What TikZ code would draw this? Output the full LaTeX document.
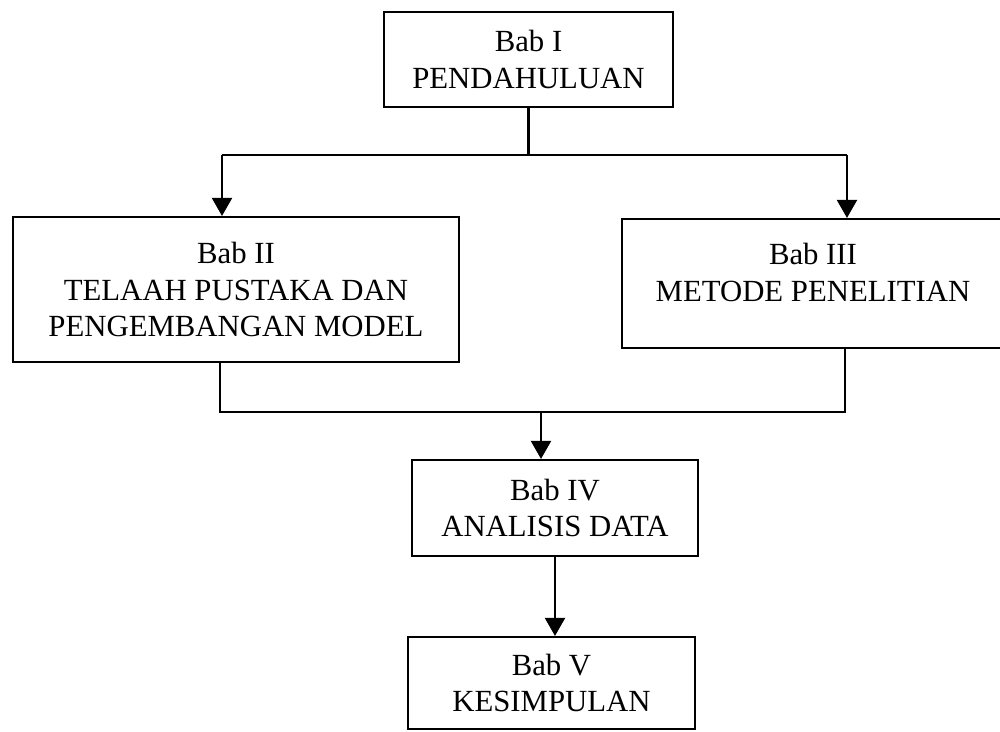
\documentclass[tikz,border=0pt]{standalone}
\usepackage{fontspec}
\setmainfont{Liberation Serif}
\usetikzlibrary{arrows.meta}

\begin{document}
\begin{tikzpicture}[
    teks/.style={align=center,font=\fontsize{17.5}{21}\selectfont},
    bab/.style={teks,draw,line width=1.2pt},
    garis/.style={line width=1.2pt},
    panah/.style={line width=1.2pt,-{Triangle[length=0.36cm,width=0.4cm]}}]
    \useasboundingbox (0,0) rectangle (20,-14.64);

    \node[bab,minimum width=5.78cm,minimum height=1.9cm] (bab1) at (10.57,-1.19) {Bab I\\PENDAHULUAN};
    \node[bab,minimum width=8.92cm,minimum height=2.9cm] (bab2) at (4.72,-5.79) {Bab II\\TELAAH PUSTAKA DAN\\PENGEMBANGAN MODEL};
    \node[bab,minimum width=7.64cm,minimum height=2.58cm] (bab3) at (16.26,-5.67) {};
    \node[teks] (bab3teks) at (16.26,-5.45) {Bab III\\METODE PENELITIAN};
    \node[bab,minimum width=5.72cm,minimum height=1.92cm] (bab4) at (11.1,-10.16) {Bab IV\\ANALISIS DATA};
    \node[bab,minimum width=5.74cm,minimum height=1.84cm] (bab5) at (11.03,-13.66) {Bab V\\KESIMPULAN};

    % cabang dari Bab I
    \coordinate (cabangkiri) at (4.44,-3.1);
    \coordinate (cabangkanan) at (16.94,-3.1);
    \draw[garis] (bab1.south) -- (bab1.south |- cabangkiri);
    \draw[garis] (cabangkiri) -- (cabangkanan);
    \draw[panah] (cabangkiri) -- (cabangkiri |- bab2.north);
    \draw[panah] (cabangkanan) -- (cabangkanan |- bab3.north);

    % gabungan ke Bab IV
    \coordinate (gabungkiri) at (4.40,-8.24);
    \coordinate (gabungkanan) at (16.90,-8.24);
    \coordinate (gabungtengah) at (10.82,-8.24);
    \draw[garis] (gabungkiri |- bab2.south) -- (gabungkiri) -- (gabungkanan) -- (gabungkanan |- bab3.south);
    \draw[panah] (gabungtengah) -- (gabungtengah |- bab4.north);
    \draw[panah] (bab4.south) -- (bab4.south |- bab5.north);
\end{tikzpicture}
\end{document}
